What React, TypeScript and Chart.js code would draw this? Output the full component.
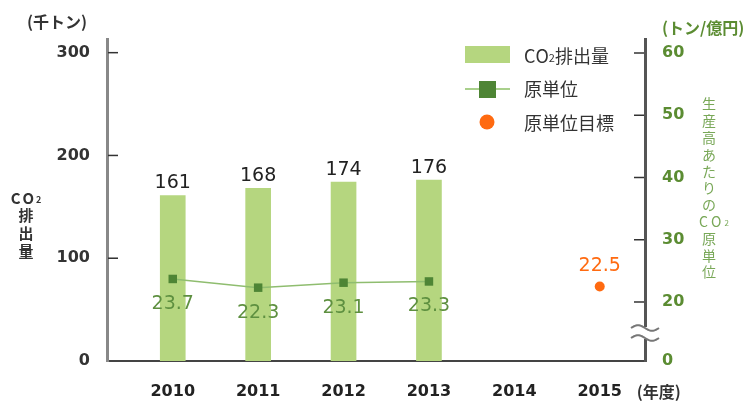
import React, { useEffect, useRef } from "react";
import { Chart, registerables } from "chart.js";

Chart.register(...registerables);

// ---- data ----
const years = [2010, 2011, 2012, 2013, 2014, 2015];
const emissionYears = [2010, 2011, 2012, 2013];
const emissions = [161, 168, 174, 176]; // 千トン
const intensity = [23.7, 22.3, 23.1, 23.3]; // トン/億円
const targetYears = [2015];
const targetValues = [22.5];
const leftTicks = [0, 100, 200, 300];
const rightTicks = [20, 30, 40, 50, 60];
const rightBottomLabel = "0";

const leftTitle = "(千トン)";
const rightTitle = "(トン/億円)";
const xTitle = "(年度)";
const leftVertical = ["CO₂", "排", "出", "量"];
const rightVertical = ["生", "産", "高", "あ", "た", "り", "の", "CO₂", "原", "単", "位"];
const legendLabels = ["CO₂排出量", "原単位", "原単位目標"];

// ---- scale ranges (axis is broken on the right) ----
const LEFT_MAX = 313.3;
const RIGHT_MIN = 10.52;
const RIGHT_MAX = 62.25;
const X_MIN = 2009.23;
const X_MAX = 2015.53;

// ---- styles ----
const BAR = "#b5d67f";
const LINE = "#8fbd6f";
const MARK = "#4e8535";
const LINE_TEXT = "#5e9040";
const RIGHT_TEXT = "#5b8c32";
const RIGHT_VTEXT = "#79a858";
const ORANGE = "#ff6a10";
const JP = "'Noto Sans CJK JP', 'DejaVu Sans', sans-serif";
const NUM = "'DejaVu Sans', sans-serif";

function drawWithCO2(ctx: CanvasRenderingContext2D, text: string, x: number, y: number, size: number, align: "left" | "center", weight = "normal", spacing = 0) {
  const parts = text.split("₂");
  ctx.textBaseline = "middle";
  const main = `${weight} ${size}px ${JP}`;
  const sub = `${weight} ${Math.round(size * 0.6)}px ${JP}`;
  const segs: { t: string; f: string; dy: number }[] = [];
  parts.forEach((p, i) => {
    if (p) p.split("").forEach((ch) => segs.push({ t: ch, f: main, dy: 0 }));
    if (i < parts.length - 1) segs.push({ t: "2", f: sub, dy: size * 0.12 });
  });
  let total = 0;
  segs.forEach((s, i) => {
    ctx.font = s.f;
    total += ctx.measureText(s.t).width + (i < segs.length - 1 ? spacing : 0);
  });
  let cx = align === "center" ? x - total / 2 : x;
  ctx.textAlign = "left";
  segs.forEach((s) => {
    ctx.font = s.f;
    ctx.fillText(s.t, cx, y + s.dy);
    cx += ctx.measureText(s.t).width + spacing;
  });
}

const overlay = {
  id: "overlay",
  afterDraw(chart: any) {
    const ctx: CanvasRenderingContext2D = chart.ctx;
    const area = chart.chartArea;
    const ys = chart.scales.y;
    const y1 = chart.scales.y1;
    const xs = chart.scales.x;
    ctx.save();

    // inside tick marks
    ctx.strokeStyle = "#333";
    ctx.lineWidth = 1.5;
    leftTicks.forEach((v) => {
      if (v === 0) return;
      const py = ys.getPixelForValue(v);
      ctx.beginPath();
      ctx.moveTo(area.left + 1, py);
      ctx.lineTo(area.left + 11, py);
      ctx.stroke();
    });
    rightTicks.forEach((v) => {
      const py = y1.getPixelForValue(v);
      ctx.beginPath();
      ctx.moveTo(area.right - 11, py);
      ctx.lineTo(area.right - 1, py);
      ctx.stroke();
    });

    // axis break symbol
    const bx = area.right;
    const bTop = y1.getPixelForValue(RIGHT_MIN) - 33;
    ctx.fillStyle = "#fff";
    ctx.fillRect(bx - 4, bTop - 1, 8, 12);
    ctx.strokeStyle = "#777";
    ctx.lineWidth = 2;
    [bTop, bTop + 10].forEach((yb) => {
      ctx.beginPath();
      for (let i = 0; i <= 28; i++) {
        const px = bx - 14 + i;
        const py = yb - 2.8 * Math.sin((i / 28) * Math.PI * 2);
        if (i === 0) ctx.moveTo(px, py);
        else ctx.lineTo(px, py);
      }
      ctx.stroke();
    });

    // bar value labels
    ctx.fillStyle = "#222";
    ctx.font = `19px ${NUM}`;
    ctx.textAlign = "center";
    ctx.textBaseline = "middle";
    chart.getDatasetMeta(0).data.forEach((el: any, i: number) => {
      ctx.fillText(String(emissions[i]), el.x, el.y - 12);
    });
    // intensity labels
    ctx.fillStyle = LINE_TEXT;
    chart.getDatasetMeta(1).data.forEach((el: any, i: number) => {
      ctx.fillText(intensity[i].toFixed(1), el.x, el.y + 25);
    });
    // target label
    ctx.fillStyle = ORANGE;
    chart.getDatasetMeta(2).data.forEach((el: any, i: number) => {
      ctx.fillText(targetValues[i].toFixed(1), el.x, el.y - 20);
    });

    // titles
    ctx.fillStyle = "#333";
    ctx.font = `bold 16px ${JP}`;
    ctx.textAlign = "left";
    ctx.fillText(leftTitle, 27, 22);
    ctx.fillText(xTitle, xs.getPixelForValue(years[years.length - 1]) + 37, 392);
    ctx.fillStyle = RIGHT_TEXT;
    ctx.fillText(rightTitle, 662, 28);

    // left vertical title
    ctx.fillStyle = "#333";
    leftVertical.forEach((c, i) => {
      drawWithCO2(ctx, c, 26, 198 + i * 17.6, 15, "center", "bold", 2);
    });
    // right vertical title
    ctx.fillStyle = RIGHT_VTEXT;
    rightVertical.forEach((c, i) => {
      drawWithCO2(ctx, c, c.length > 1 ? 714 : 709, 104 + i * 16.8, 14, "center", "normal", c.length > 1 ? 3 : 0);
    });

    // legend
    const lx = 465;
    ctx.fillStyle = BAR;
    ctx.fillRect(lx, 46, 45, 17);
    ctx.strokeStyle = "#a9d08c";
    ctx.lineWidth = 2;
    ctx.beginPath();
    ctx.moveTo(lx, 89);
    ctx.lineTo(lx + 45, 89);
    ctx.stroke();
    ctx.fillStyle = MARK;
    ctx.fillRect(lx + 14, 81, 17, 17);
    ctx.fillStyle = ORANGE;
    ctx.beginPath();
    ctx.arc(lx + 22, 122, 7.5, 0, Math.PI * 2);
    ctx.fill();
    ctx.fillStyle = "#333";
    drawWithCO2(ctx, legendLabels[0], 524, 56, 18, "left");
    drawWithCO2(ctx, legendLabels[1], 524, 89, 18, "left");
    drawWithCO2(ctx, legendLabels[2], 524, 123, 18, "left");

    ctx.restore();
  },
};

export default function App() {
  const ref = useRef<HTMLCanvasElement | null>(null);
  useEffect(() => {
    if (!ref.current) return;
    const chart = new Chart(ref.current, {
      data: {
        datasets: [
          {
            type: "bar",
            label: legendLabels[0],
            data: emissionYears.map((x, i) => ({ x, y: emissions[i] })),
            backgroundColor: BAR,
            barThickness: 25,
            xAxisID: "x",
            yAxisID: "y",
            order: 3,
          },
          {
            type: "line",
            label: legendLabels[1],
            data: emissionYears.map((x, i) => ({ x, y: intensity[i] })),
            borderColor: LINE,
            borderWidth: 1.5,
            pointStyle: "rect",
            pointRadius: 6,
            pointBackgroundColor: MARK,
            pointBorderColor: MARK,
            pointBorderWidth: 0,
            xAxisID: "x",
            yAxisID: "y1",
            order: 2,
          },
          {
            type: "line",
            label: legendLabels[2],
            data: targetYears.map((x, i) => ({ x, y: targetValues[i] })),
            showLine: false,
            pointRadius: 5,
            pointBackgroundColor: ORANGE,
            pointBorderColor: ORANGE,
            pointBorderWidth: 0,
            xAxisID: "x",
            yAxisID: "y1",
            order: 1,
          },
        ],
      } as any,
      options: {
        animation: false,
        responsive: false,
        devicePixelRatio: 1,
        layout: { padding: { top: 39, left: 0, right: 0, bottom: 0 } },
        plugins: { legend: { display: false }, tooltip: { enabled: false } },
        scales: {
          x: {
            type: "linear",
            offset: false,
            min: X_MIN,
            max: X_MAX,
            afterBuildTicks: (s: any) => {
              s.ticks = years.map((v) => ({ value: v }));
            },
            afterFit: (s: any) => {
              s.height = 40;
            },
            grid: { display: false, drawTicks: false, offset: false },
            border: { display: true, color: "#444", width: 2 },
            ticks: {
              padding: 21,
              color: "#222",
              font: { family: NUM, weight: "bold", size: 16 },
              callback: (v: any) => String(v),
            },
          },
          y: {
            type: "linear",
            position: "left",
            min: 0,
            max: LEFT_MAX,
            afterBuildTicks: (s: any) => {
              s.ticks = leftTicks.map((v) => ({ value: v }));
            },
            afterFit: (s: any) => {
              s.width = 107;
            },
            grid: { display: false, drawTicks: false },
            border: { display: true, color: "#888", width: 3 },
            ticks: {
              padding: 17,
              color: "#333",
              font: { family: NUM, weight: "bold", size: 16 },
              callback: (v: any) => String(v),
            },
          },
          y1: {
            type: "linear",
            position: "right",
            min: RIGHT_MIN,
            max: RIGHT_MAX,
            afterBuildTicks: (s: any) => {
              s.ticks = [{ value: RIGHT_MIN }, ...rightTicks.map((v) => ({ value: v }))];
            },
            afterFit: (s: any) => {
              s.width = 108;
            },
            grid: { display: false, drawTicks: false },
            border: { display: true, color: "#555", width: 3 },
            ticks: {
              padding: 17,
              color: RIGHT_TEXT,
              font: { family: NUM, weight: "bold", size: 16 },
              callback: (v: any) => (v === RIGHT_MIN ? rightBottomLabel : String(v)),
            },
          },
        },
      } as any,
      plugins: [overlay],
    });
    return () => chart.destroy();
  }, []);
  return (
    <div style={{ position: "fixed", left: 0, top: 0, width: 753, height: 401, background: "#fff" }}>
      <canvas ref={ref} width={753} height={401} style={{ display: "block" }} />
    </div>
  );
}
